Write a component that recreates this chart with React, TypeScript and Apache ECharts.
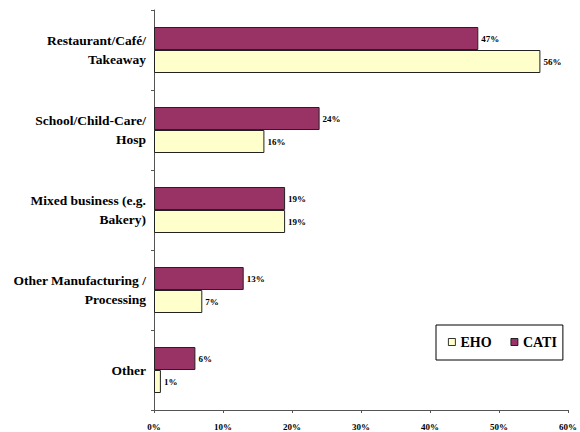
import React, { useEffect, useRef } from "react";
import * as echarts from "echarts";

const categories = [
  "Restaurant/Café/\nTakeaway",
  "School/Child-Care/\nHosp",
  "Mixed business (e.g.\nBakery)",
  "Other Manufacturing /\nProcessing",
  "Other",
];
const cati = [47, 24, 19, 13, 6];
const eho = [56, 16, 19, 7, 1];
const xTicks = [0, 10, 20, 30, 40, 50, 60];

const FONT = "Liberation Serif";

export default function App() {
  const ref = useRef<HTMLDivElement>(null);
  useEffect(() => {
    if (!ref.current) return;
    const chart = echarts.init(ref.current, undefined, { renderer: "svg" });
    const label = {
      show: true,
      position: "right" as const,
      formatter: (p: any) => p.value + "%",
      fontFamily: FONT,
      fontSize: 9,
      fontWeight: "bold" as const,
      color: "#000",
      distance: 3,
    };
    chart.setOption({
      animation: false,
      textStyle: { fontFamily: FONT },
      grid: { left: 154, right: 9, top: 10, bottom: 22, containLabel: false },
      legend: {
        data: ["EHO", "CATI"],
        left: 436,
        top: 325,
        orient: "horizontal",
        borderColor: "#000",
        borderWidth: 1,
        padding: [10, 6, 11, 12],
        itemWidth: 7,
        itemHeight: 7,
        itemGap: 19,
        textStyle: { fontFamily: FONT, fontSize: 14, fontWeight: "bold", color: "#000" },
        icon: "rect",
        itemStyle: { borderColor: "#000", borderWidth: 0.8 },
      },
      xAxis: {
        type: "value",
        min: 0,
        max: 60,
        interval: 10,
        axisLine: { show: true, lineStyle: { color: "#555", width: 1 } },
        axisTick: { show: true, length: 3, lineStyle: { color: "#555" } },
        splitLine: { show: false },
        axisLabel: {
          formatter: (v: number) => (xTicks.includes(v) ? v + "%" : ""),
          fontFamily: FONT,
          fontSize: 9,
          fontWeight: "bold",
          color: "#000",
          margin: 12,
        },
      },
      yAxis: {
        type: "category",
        data: categories,
        inverse: true,
        axisLine: { show: true, lineStyle: { color: "#555", width: 1 } },
        axisTick: { show: true, length: 3, lineStyle: { color: "#555" } },
        axisLabel: {
          fontFamily: FONT,
          fontSize: 13.5,
          fontWeight: "bold",
          color: "#000",
          lineHeight: 19,
          margin: 8,
          align: "right",
        },
      },
      series: [
        {
          name: "CATI",
          type: "bar",
          data: cati,
          barCategoryGap: "42.5%",
          barGap: "0%",
          itemStyle: { color: "#993366", borderColor: "#222", borderWidth: 1 },
          label,
        },
        {
          name: "EHO",
          type: "bar",
          data: eho,
          barCategoryGap: "42.5%",
          barGap: "0%",
          itemStyle: { color: "#FFFFCC", borderColor: "#222", borderWidth: 1 },
          label,
        },
      ],
    });
    return () => chart.dispose();
  }, []);
  return <div ref={ref} style={{ width: 580, height: 432, position: "absolute", left: 0, top: 0 }} />;
}
